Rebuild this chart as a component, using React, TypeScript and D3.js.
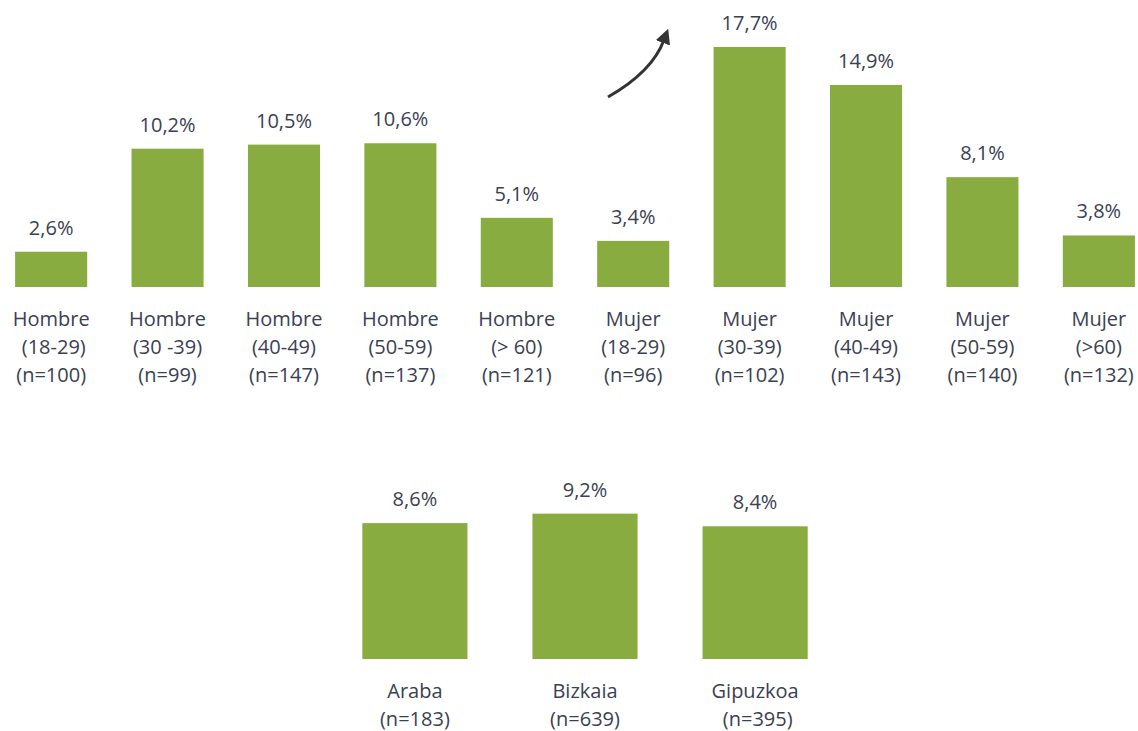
import React from 'react';
import * as d3 from 'd3';

// top chart: sex x age group
const ageGroups = ['h1829', 'h3039', 'h4049', 'h5059', 'h60', 'm1829', 'm3039', 'm4049', 'm5059', 'm60'];
const ageValues = [2.6, 10.2, 10.5, 10.6, 5.1, 3.4, 17.7, 14.9, 8.1, 3.8];
const ageLabels = [
  ['Hombre', '\u00a0(18-29)', '(n=100)'],
  ['Hombre', '(30 -39)', '(n=99)'],
  ['Hombre', '(40-49)', '(n=147)'],
  ['Hombre', '(50-59)', '(n=137)'],
  ['Hombre', '(> 60)', '(n=121)'],
  ['Mujer', '(18-29)', '(n=96)'],
  ['Mujer', '(30-39)', '(n=102)'],
  ['Mujer', '(40-49)', '(n=143)'],
  ['Mujer', '(50-59)', '(n=140)'],
  ['Mujer', '(>60)', '(n=132)'],
];

// bottom chart: territory
const territories = ['Araba', 'Bizkaia', 'Gipuzkoa'];
const territoryValues = [8.6, 9.2, 8.4];
const territoryLabels = [
  ['Araba', '(n=183)'],
  ['Bizkaia', '(n=639)'],
  ['Gipuzkoa', '\u00a0(n=395)'],
];

const BAR = '#88ac3f';
const TEXT = '#3a4152';
const FONT = '"Open Sans", "Noto Sans", sans-serif';

const fmt = (v: number) => v.toFixed(1).replace('.', ',') + '%';

function BarGroup({ keys, values, labels, x, y, baseline }: any) {
  return (
    <g>
      {keys.map((k: string, i: number) => {
        const x0 = x(k);
        const cx = x0 + x.bandwidth() / 2;
        const top = y(values[i]);
        return (
          <g key={k}>
            <rect x={x0} y={top} width={x.bandwidth()} height={baseline - top} fill={BAR} />
            <text x={cx} y={top - 17} textAnchor="middle" fontSize={20} fill={TEXT}>
              {fmt(values[i])}
            </text>
            <text x={cx} y={baseline + 39} textAnchor="middle" fontSize={20} fill={TEXT}>
              {labels[i].map((l: string, j: number) => (
                <tspan key={j} x={cx} y={baseline + 39 + j * 28}>{l}</tspan>
              ))}
            </text>
          </g>
        );
      })}
    </g>
  );
}

export default function App() {
  const width = 1138;
  const height = 731;

  const topBase = 287;
  const xTop = d3.scaleBand().domain(ageGroups).range([-7, 1157]).paddingInner(0.381).paddingOuter(0.19);
  const yTop = d3.scaleLinear().domain([0, 20]).range([topBase, topBase - 271.2]);

  const botBase = 659;
  const xBot = d3.scaleBand().domain(territories).range([330, 840]).paddingInner(0.382).paddingOuter(0.19);
  const yBot = d3.scaleLinear().domain([0, 10]).range([botBase, botBase - 158]);

  const arrow = d3.path();
  arrow.moveTo(608, 97);
  arrow.quadraticCurveTo(652, 72, 664, 40);

  return (
    <svg
      width={width}
      height={height}
      style={{ position: 'absolute', left: 0, top: 0, background: '#fff' }}
      fontFamily={FONT}
    >
      <defs>
        <marker id="arrowHead" viewBox="0 0 10 10" refX="2" refY="5" markerWidth="5" markerHeight="5" orient="auto">
          <path d="M0,0 L10,5 L0,10 z" fill="#333" />
        </marker>
      </defs>
      <BarGroup keys={ageGroups} values={ageValues} labels={ageLabels} x={xTop} y={yTop} baseline={topBase} />
      <BarGroup keys={territories} values={territoryValues} labels={territoryLabels} x={xBot} y={yBot} baseline={botBase} />
      <path d={arrow.toString()} fill="none" stroke="#333" strokeWidth={3} markerEnd="url(#arrowHead)" />
    </svg>
  );
}
